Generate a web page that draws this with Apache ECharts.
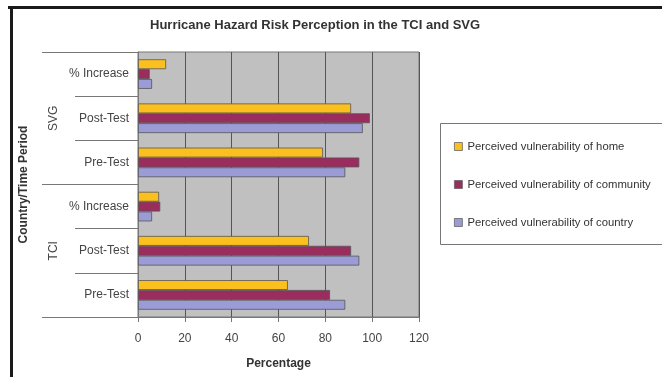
<!DOCTYPE html>
<html>
<head>
<meta charset="utf-8">
<script src="https://cdn.jsdelivr.net/npm/echarts@6/dist/echarts.min.js"></script>
<style>html,body{margin:0;padding:0;background:#fff;}#c{width:662px;height:377px;}</style>
</head>
<body>
<div id="c"></div>
<script>
// Categories, top to bottom
var groups = ['SVG', 'TCI'];
var periods = ['% Increase', 'Post-Test', 'Pre-Test'];
var categoryKeys = ['SVG|% Increase', 'SVG|Post-Test', 'SVG|Pre-Test', 'TCI|% Increase', 'TCI|Post-Test', 'TCI|Pre-Test'];
var seriesNames = ['Perceived vulnerability of home', 'Perceived vulnerability of community', 'Perceived vulnerability of country'];
var homeValues = [12, 91, 79, 9, 73, 64];
var communityValues = [5, 99, 94.5, 9.5, 91, 82];
var countryValues = [6, 96, 88.5, 6, 94.5, 88.5];
var xTicks = [0, 20, 40, 60, 80, 100, 120];

var colors = ['#fcc01e', '#9b2d5e', '#9b9bd6'];
var font = 'Liberation Sans, Arial, sans-serif';
var chart = echarts.init(document.getElementById('c'));
var valuesList = [homeValues, communityValues, countryValues];
chart.setOption({
  animation: false,
  title: {
    text: 'Hurricane Hazard Risk Perception in the TCI and SVG',
    left: 145, top: 14,
    textStyle: {fontFamily: font, fontSize: 13, fontWeight: 'bold', color: '#333'}
  },
  grid: {left: 138, right: 243, top: 52, bottom: 60, show: true, backgroundColor: '#c0c0c0', borderColor: '#777', borderWidth: 1},
  legend: {
    orient: 'vertical', left: 449, top: 136, itemGap: 27,
    icon: 'rect', itemWidth: 8, itemHeight: 8,
    data: seriesNames,
    itemStyle: {borderColor: '#666', borderWidth: 0.8},
    textStyle: {fontFamily: font, fontSize: 11.3, color: '#333'}
  },
  xAxis: {
    type: 'value', min: xTicks[0], max: xTicks[xTicks.length - 1], interval: 20,
    name: 'Percentage', nameLocation: 'middle', nameGap: 41,
    nameTextStyle: {fontFamily: font, fontSize: 12, fontWeight: 'bold', color: '#333'},
    axisLine: {show: true, lineStyle: {color: '#777'}},
    axisTick: {show: true, length: 5, lineStyle: {color: '#777'}},
    axisLabel: {fontFamily: font, fontSize: 12, color: '#444', margin: 16},
    splitLine: {show: true, lineStyle: {color: '#555', width: 1}}
  },
  yAxis: [{
    type: 'category', inverse: true, data: categoryKeys,
    axisLine: {show: true, lineStyle: {color: '#777'}},
    axisTick: {show: true, length: 63, interval: 0, lineStyle: {color: '#777'}},
    axisLabel: {fontFamily: font, fontSize: 12, color: '#444', margin: 9, interval: 0,
      formatter: function (v) { return v.split('|')[1]; }}
  }, {
    type: 'category', inverse: true, data: groups, position: 'left', offset: 63,
    name: 'Country/Time Period', nameLocation: 'middle', nameRotate: 90, nameGap: 45,
    nameTextStyle: {fontFamily: font, fontSize: 12, fontWeight: 'bold', color: '#333'},
    axisLine: {show: false},
    axisTick: {show: true, length: 33, interval: 0, lineStyle: {color: '#777'}},
    axisLabel: {fontFamily: font, fontSize: 12, color: '#444', rotate: 90, margin: 15, interval: 0}
  }],
  series: seriesNames.map(function (n, i) {
    return {
      name: n, type: 'bar', yAxisIndex: 0, data: valuesList[i],
      barGap: '0%', barCategoryGap: '33%',
      itemStyle: {color: colors[i], borderColor: '#555', borderWidth: 0.8}
    };
  }),
  graphic: [
    {type: 'rect', shape: {x: 440.5, y: 123.5, width: 240, height: 121}, style: {fill: 'none', stroke: '#777', lineWidth: 1}, z: -1},
    {type: 'line', shape: {x1: 8, y1: 7.5, x2: 662, y2: 7.5}, style: {stroke: '#1a1a1a', lineWidth: 3}},
    {type: 'line', shape: {x1: 11.5, y1: 6, x2: 11.5, y2: 377}, style: {stroke: '#1a1a1a', lineWidth: 3}}
  ]
});
</script>
</body>
</html>
